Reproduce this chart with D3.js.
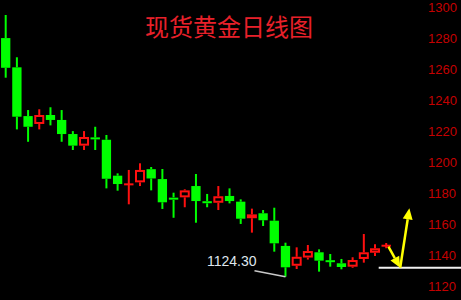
<!DOCTYPE html>
<html>
<head>
<meta charset="utf-8">
<script src="https://cdn.jsdelivr.net/npm/d3@7"></script>
<style>
  body { margin: 0; background: #000; }
  svg { display: block; }
</style>
</head>
<body>
<div id="chart"></div>
<script>
// daily gold candles
const open = [1278.5, 1259.6, 1228.1, 1223.0, 1228.8, 1225.6, 1216.5, 1209.0, 1214.3, 1212.8,
  1189.6, 1183.9, 1185.3, 1193.8, 1187.4, 1175.6, 1175.6, 1182.9, 1173.2, 1172.1,
  1176.5, 1172.8, 1162.1, 1165.3, 1160.5, 1144.2, 1131.4, 1136.7, 1140.1, 1134.9,
  1133.0, 1130.8, 1135.8, 1139.8, 1144.2];
const high = [1293.4, 1266.1, 1232.0, 1232.5, 1233.8, 1232.0, 1218.4, 1218.4, 1221.2, 1215.9,
  1191.1, 1193.3, 1197.6, 1195.2, 1193.9, 1178.6, 1180.8, 1190.7, 1177.8, 1182.9,
  1181.4, 1174.3, 1168.3, 1167.4, 1168.9, 1146.3, 1143.3, 1144.8, 1142.0, 1139.0,
  1135.8, 1136.9, 1151.9, 1145.3, 1146.1];
const low = [1252.9, 1219.5, 1211.5, 1219.5, 1222.1, 1211.5, 1206.2, 1206.2, 1206.2, 1181.4,
  1179.9, 1171.1, 1182.9, 1180.1, 1168.1, 1162.4, 1169.2, 1159.2, 1169.2, 1167.4,
  1171.7, 1158.4, 1152.8, 1157.1, 1140.5, 1124.3, 1129.3, 1135.4, 1127.6, 1130.8,
  1129.1, 1130.1, 1133.4, 1137.7, 1142.7];
const close = [1259.3, 1227.7, 1221.2, 1228.8, 1225.6, 1216.5, 1209.0, 1214.6, 1213.1, 1187.6,
  1184.2, 1184.1, 1193.3, 1187.8, 1172.4, 1173.9, 1180.1, 1173.2, 1171.7, 1176.3,
  1173.2, 1161.8, 1164.6, 1160.8, 1145.9, 1130.4, 1137.2, 1140.9, 1134.7, 1133.8,
  1130.6, 1135.1, 1140.1, 1142.7, 1144.5];

const priceTicks = [1120, 1140, 1160, 1180, 1200, 1220, 1240, 1260, 1280, 1300];
const title = "现货黄金日线图";
const lowLabel = "1124.30";
const lowIndex = 25;
const supportLevel = 1130.1;
// yellow arrows: [candle index, price]
const arrowPoints = [[34.2, 1143.7], [35.25, 1130.1], [36.07, 1168.5]];

const width = 461;
const height = 300;

const svg = d3
  .select("#chart")
  .append("svg")
  .attr("width", width)
  .attr("height", height)
  .style("background", "#000");

const x = d3.scaleLinear().domain([0, open.length - 1]).range([5.7, 386.2]);
const y = d3.scaleLinear().domain([1120, 1300]).range([283.4, 4.8]);

const green = "#00ff00";
const red = "#ff1010";

const candles = open.map((o, i) => ({
  i: i,
  open: o,
  high: high[i],
  low: low[i],
  close: close[i],
  up: close[i] >= o,
}));

// price labels on the right
svg
  .selectAll(".tick")
  .data(priceTicks)
  .join("text")
  .attr("class", "tick")
  .attr("x", 428)
  .attr("y", (d) => y(d) + 2.6)
  .attr("dominant-baseline", "central")
  .style("fill", "#c40000")
  .style("font-family", "'Liberation Sans', Arial, sans-serif")
  .style("font-size", "13px")
  .text((d) => d);

// title
svg
  .append("text")
  .attr("x", 229)
  .attr("y", 25)
  .attr("text-anchor", "middle")
  .attr("dominant-baseline", "central")
  .style("fill", "#e8202a")
  .style("font-family", "'Noto Sans CJK SC', sans-serif")
  .style("font-size", "24px")
  .text(title);

const g = svg.selectAll(".candle").data(candles).join("g").attr("class", "candle");

g.each(function (d) {
  const node = d3.select(this);
  const cx = x(d.i);
  const top = y(Math.max(d.open, d.close));
  const bottom = y(Math.min(d.open, d.close));
  const color = d.up ? red : green;
  const flat = bottom - top < 3;

  // upper and lower wick, kept out of hollow bodies
  node.append("line")
    .attr("x1", cx).attr("x2", cx)
    .attr("y1", y(d.high)).attr("y2", top)
    .attr("stroke", color).attr("stroke-width", 2);
  node.append("line")
    .attr("x1", cx).attr("x2", cx)
    .attr("y1", bottom).attr("y2", y(d.low))
    .attr("stroke", color).attr("stroke-width", 2);

  if (flat) {
    const mid = (top + bottom) / 2;
    node.append("rect")
      .attr("x", cx - 4.7).attr("width", 9.4)
      .attr("y", mid - 1).attr("height", 2)
      .attr("fill", color);
  } else if (d.up) {
    node.append("rect")
      .attr("x", cx - 4).attr("width", 8)
      .attr("y", top + 1).attr("height", bottom - top - 2)
      .attr("fill", "#000")
      .attr("stroke", color).attr("stroke-width", 2);
  } else {
    node.append("rect")
      .attr("x", cx - 4.65).attr("width", 9.3)
      .attr("y", top).attr("height", bottom - top)
      .attr("fill", color);
  }
});

// support line
svg
  .append("line")
  .attr("x1", 378.7)
  .attr("x2", width)
  .attr("y1", y(supportLevel))
  .attr("y2", y(supportLevel))
  .attr("stroke", "#f0f0f0")
  .attr("stroke-width", 2);

// low annotation
const lowX = x(lowIndex);
const lowY = y(low[lowIndex]);
svg
  .append("line")
  .attr("x1", lowX - 31)
  .attr("y1", lowY - 6)
  .attr("x2", lowX)
  .attr("y2", lowY)
  .attr("stroke", "#c8c8c8")
  .attr("stroke-width", 1.5);

svg
  .append("text")
  .attr("x", 207)
  .attr("y", 261)
  .attr("dominant-baseline", "central")
  .style("fill", "#dfe6ee")
  .style("font-family", "'Liberation Sans', Arial, sans-serif")
  .style("font-size", "14px")
  .text(lowLabel);

// yellow arrows
const pts = arrowPoints.map((p) => [x(p[0]), y(p[1])]);

function arrow(from, to) {
  const dx = to[0] - from[0];
  const dy = to[1] - from[1];
  const len = Math.hypot(dx, dy);
  const ux = dx / len;
  const uy = dy / len;
  const headLen = 11;
  const hw = 5;
  const bx = to[0] - ux * headLen;
  const by = to[1] - uy * headLen;
  svg.append("line")
    .attr("x1", from[0]).attr("y1", from[1])
    .attr("x2", bx).attr("y2", by)
    .attr("stroke", "#ffff00").attr("stroke-width", 2.5);
  svg.append("polygon")
    .attr("points", [
      to,
      [bx - uy * hw, by + ux * hw],
      [bx + uy * hw, by - ux * hw],
    ].map((p) => p.join(",")).join(" "))
    .attr("fill", "#ffff00");
}

arrow(pts[0], pts[1]);
arrow(pts[1], pts[2]);
</script>
</body>
</html>
